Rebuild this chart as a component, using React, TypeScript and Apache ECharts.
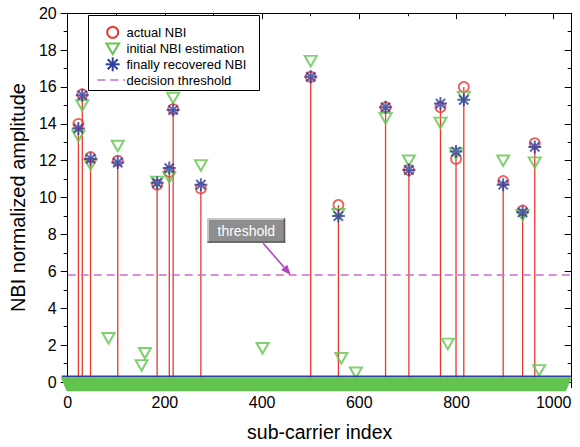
import React, { useEffect, useRef } from 'react';
import * as echarts from 'echarts';

// ---- data ----
const nbiIndex = [22, 30, 47, 103, 184, 209, 217, 274, 500, 557, 654, 702, 767, 799, 815, 896, 936, 961];
const actualNBI = [14.0, 15.6, 12.2, 12.0, 10.7, 11.4, 14.8, 10.5, 16.55, 9.6, 14.9, 11.5, 14.9, 12.1, 16.0, 10.9, 9.3, 12.95];
const recoveredNBI = [13.75, 15.55, 12.1, 11.9, 10.8, 11.6, 14.75, 10.7, 16.55, 9.0, 14.9, 11.5, 15.1, 12.5, 15.3, 10.7, 9.2, 12.75];
const initialAtNBI = [13.35, 15.0, 11.8, 12.8, 10.85, 11.1, 15.4, 11.75, 17.4, 9.1, 14.3, 12.0, 14.05, 12.4, 15.45, 12.0, 9.05, 11.9];
const falseIndex = [84, 152, 159, 401, 563, 593, 782, 970];
const falseInitial = [2.37, 0.9, 1.56, 1.83, 1.29, 0.5, 2.07, 0.63];
const decisionThreshold = 5.8;
const firstSubcarrier = 0;
const lastSubcarrier = 1023;
const zeroLevel = 0;
const annotationAt = [459, 5.8];
const annotationText = 'threshold';

const xMin = 0;
const xMax = 1037;
const xInterval = 200;
const xTickLabels = [0, 200, 400, 600, 800, 1000];
const yMin = 0;
const yMax = 20;
const yInterval = 2;

const legendLabels = ['actual NBI', 'initial NBI estimation', 'finally recovered NBI', 'decision threshold'];
const xTitle = 'sub-carrier index';
const yTitle = 'NBI normalized amplitude';

// ---- styles ----
const RED = '#e8392f';
const GREEN = '#62c44e';
const BLUE = '#2e3f9e';
const PINK = '#cc6ccc';
const ARROW = '#b442c2';
const FONT = "'Liberation Sans', Arial, Helvetica, sans-serif";
const STAR = 'path://M0,-7 L0,7 M-7,0 L7,0 M-5,-5 L5,5 M-5,5 L5,-5';

export default function App() {
  const ref = useRef<HTMLDivElement>(null);

  useEffect(() => {
    if (!ref.current) return;
    const chart = echarts.init(ref.current, undefined, { renderer: 'svg' });

    const axisCommon = {
      type: 'value' as const,
      splitLine: { show: false },
      axisLine: { show: true, onZero: false, lineStyle: { color: '#000', width: 1 } },
    };

    const legendX = 112.7;
    const textX = 126.5;
    const rows = [32.3, 48.3, 64.3, 80];

    const legendElements: any[] = [
      {
        type: 'rect', z: 100,
        shape: { x: 88.5, y: 15.5, width: 171, height: 75 },
        style: { fill: '#fff', stroke: '#000', lineWidth: 1 },
      },
      {
        type: 'circle', z: 101,
        shape: { cx: legendX, cy: rows[0], r: 5.5 },
        style: { fill: 'transparent', stroke: RED, lineWidth: 2 },
      },
      {
        type: 'polygon', z: 101,
        shape: { points: [[legendX - 6.3, rows[1] - 4.8], [legendX + 6.3, rows[1] - 4.8], [legendX, rows[1] + 5.8]] },
        style: { fill: 'transparent', stroke: GREEN, lineWidth: 2 },
      },
      {
        type: 'group', z: 101,
        children: [
          { type: 'line', z: 101, shape: { x1: legendX, y1: rows[2] - 7, x2: legendX, y2: rows[2] + 7 }, style: { stroke: BLUE, lineWidth: 2 } },
          { type: 'line', z: 101, shape: { x1: legendX - 7, y1: rows[2], x2: legendX + 7, y2: rows[2] }, style: { stroke: BLUE, lineWidth: 2 } },
          { type: 'line', z: 101, shape: { x1: legendX - 5, y1: rows[2] - 5, x2: legendX + 5, y2: rows[2] + 5 }, style: { stroke: BLUE, lineWidth: 2 } },
          { type: 'line', z: 101, shape: { x1: legendX - 5, y1: rows[2] + 5, x2: legendX + 5, y2: rows[2] - 5 }, style: { stroke: BLUE, lineWidth: 2 } },
        ],
      },
      {
        type: 'line', z: 101,
        shape: { x1: 97.3, y1: rows[3], x2: 125, y2: rows[3] },
        style: { stroke: PINK, lineWidth: 1.5, lineDash: [8, 5] },
      },
      ...legendLabels.map((t, i) => ({
        type: 'text', z: 101,
        x: textX, y: rows[i],
        style: { text: t, fill: '#000', fontSize: 13, fontFamily: FONT, verticalAlign: 'middle', align: 'left' },
      })),
    ];

    const option: any = {
      animation: false,
      backgroundColor: '#fff',
      grid: { left: 63.3, right: 8.3, top: 13.2, bottom: 60.3, containLabel: false },
      xAxis: [
        {
          ...axisCommon,
          position: 'bottom',
          min: xMin, max: xMax, interval: xInterval,
          axisTick: { show: true, inside: false, length: 6, lineStyle: { color: '#000' } },
          minorTick: { show: true, splitNumber: 2, length: 3, lineStyle: { color: '#000' } },
          axisLabel: { show: false },
          name: xTitle, nameLocation: 'middle', nameGap: 40,
          nameTextStyle: { fontSize: 19.5, color: '#000', fontFamily: FONT },
        },
        {
          ...axisCommon,
          position: 'top',
          min: xMin, max: xMax, interval: xInterval,
          axisTick: { show: true, inside: true, length: 6, lineStyle: { color: '#000' } },
          minorTick: { show: true, splitNumber: 2, length: 3, lineStyle: { color: '#000' } },
          axisLabel: { show: false },
        },
      ],
      yAxis: [
        {
          ...axisCommon,
          position: 'left',
          min: yMin, max: yMax, interval: yInterval,
          axisTick: { show: true, inside: false, length: 7, lineStyle: { color: '#000' } },
          minorTick: { show: true, splitNumber: 2, length: 4, lineStyle: { color: '#000' } },
          axisLabel: { fontSize: 16, color: '#000', fontFamily: FONT, margin: 11 },
          name: yTitle, nameLocation: 'middle', nameGap: 31,
          nameTextStyle: { fontSize: 20, color: '#000', fontFamily: FONT },
        },
        {
          ...axisCommon,
          position: 'right',
          min: yMin, max: yMax, interval: yInterval,
          axisTick: { show: true, inside: true, length: 7, lineStyle: { color: '#000' } },
          minorTick: { show: true, splitNumber: 2, length: 4, lineStyle: { color: '#000' } },
          axisLabel: { show: false },
        },
      ],
      series: [
        {
          name: 'stems',
          type: 'custom',
          z: 2,
          silent: true,
          encode: { x: 0, y: 1 },
          data: nbiIndex.map((x, i) => [x, actualNBI[i]]),
          renderItem: (_p: any, api: any) => {
            const x = api.value(0);
            const p0 = api.coord([x, zeroLevel]);
            const p1 = api.coord([x, api.value(1)]);
            return {
              type: 'line',
              shape: { x1: p0[0], y1: p0[1], x2: p1[0], y2: p1[1] },
              style: { stroke: RED, lineWidth: 1.3 },
            };
          },
        },
        {
          name: legendLabels[3],
          type: 'line',
          z: 3,
          symbol: 'none',
          silent: true,
          data: [[xMin, decisionThreshold], [xMax, decisionThreshold]],
          lineStyle: { color: PINK, width: 1.5, type: [8, 5] },
        },
        {
          name: legendLabels[0],
          type: 'scatter',
          z: 4,
          symbol: 'circle',
          symbolSize: 10,
          data: nbiIndex.map((x, i) => [x, actualNBI[i]]),
          itemStyle: { color: 'transparent', borderColor: RED, borderWidth: 1.8 },
        },
        {
          name: legendLabels[1],
          type: 'scatter',
          z: 5,
          symbol: 'triangle',
          symbolRotate: 180,
          symbolSize: [12, 10.5],
          data: [
            ...nbiIndex.map((x, i) => [x, initialAtNBI[i]]),
            ...falseIndex.map((x, i) => [x, falseInitial[i]]),
          ],
          itemStyle: { color: 'transparent', borderColor: GREEN, borderWidth: 2 },
        },
        {
          name: 'zero bins',
          type: 'custom',
          z: 6,
          silent: true,
          clip: false,
          encode: { x: [0, 1], y: 2 },
          data: [[firstSubcarrier, lastSubcarrier, zeroLevel]],
          renderItem: (_p: any, api: any) => {
            const a = api.coord([api.value(0), api.value(2)]);
            const b = api.coord([api.value(1), api.value(2)]);
            const y = a[1];
            return {
              type: 'group',
              children: [
                {
                  type: 'line',
                  shape: { x1: a[0] - 6, y1: y - 5.6, x2: b[0] + 6, y2: y - 5.6 },
                  style: { stroke: BLUE, lineWidth: 1.6 },
                },
                {
                  type: 'polygon',
                  shape: { points: [[a[0] - 7, y - 4.7], [b[0] + 7, y - 4.7], [b[0] + 1, y + 9.3], [a[0] - 1, y + 9.3]] },
                  style: { fill: GREEN },
                },
              ],
            };
          },
        },
        {
          name: legendLabels[2],
          type: 'scatter',
          z: 7,
          symbol: STAR,
          symbolSize: 13,
          data: nbiIndex.map((x, i) => [x, recoveredNBI[i]]),
          itemStyle: { color: 'transparent', borderColor: BLUE, borderWidth: 2 },
        },
        {
          name: 'annotation',
          type: 'custom',
          z: 10,
          silent: true,
          clip: false,
          encode: { x: 0, y: 1 },
          data: [annotationAt],
          renderItem: (_p: any, api: any) => {
            const tip = api.coord([api.value(0), api.value(1)]);
            const sx = tip[0] - 27.6;
            const sy = tip[1] - 31.8;
            const dx = tip[0] - sx;
            const dy = tip[1] - sy;
            const len = Math.sqrt(dx * dx + dy * dy);
            const ux = dx / len;
            const uy = dy / len;
            const headLen = 10;
            const halfW = 4;
            const bx = tip[0] - ux * headLen;
            const by = tip[1] - uy * headLen;
            const nx = -uy;
            const ny = ux;
            const boxL = tip[0] - 83.3;
            const boxT = tip[1] - 56.6;
            const boxW = 77.7;
            const boxH = 24.3;
            return {
              type: 'group',
              children: [
                { type: 'line', shape: { x1: sx, y1: sy, x2: bx, y2: by }, style: { stroke: ARROW, lineWidth: 1.6 } },
                {
                  type: 'polygon',
                  shape: { points: [[tip[0], tip[1]], [bx + nx * halfW, by + ny * halfW], [bx - nx * halfW, by - ny * halfW]] },
                  style: { fill: ARROW },
                },
                { type: 'rect', shape: { x: boxL, y: boxT, width: boxW, height: boxH }, style: { fill: '#8e8e8e' } },
                { type: 'line', shape: { x1: boxL, y1: boxT + 0.75, x2: boxL + boxW, y2: boxT + 0.75 }, style: { stroke: '#c9c9c9', lineWidth: 1.5 } },
                { type: 'line', shape: { x1: boxL + 0.75, y1: boxT, x2: boxL + 0.75, y2: boxT + boxH }, style: { stroke: '#c9c9c9', lineWidth: 1.5 } },
                { type: 'line', shape: { x1: boxL, y1: boxT + boxH - 0.75, x2: boxL + boxW, y2: boxT + boxH - 0.75 }, style: { stroke: '#5a5a5a', lineWidth: 1.5 } },
                { type: 'line', shape: { x1: boxL + boxW - 0.75, y1: boxT, x2: boxL + boxW - 0.75, y2: boxT + boxH }, style: { stroke: '#5a5a5a', lineWidth: 1.5 } },
                {
                  type: 'text',
                  x: boxL + boxW / 2,
                  y: boxT + boxH / 2,
                  style: { text: annotationText, fill: '#fff', fontSize: 14, fontFamily: FONT, align: 'center', verticalAlign: 'middle' },
                },
              ],
            };
          },
        },
      ],
      graphic: { elements: legendElements },
    };

    chart.setOption(option);

    // x tick labels placed through the axis scale
    const tickTexts = xTickLabels.map((v) => {
      const p = chart.convertToPixel({ xAxisIndex: 0, yAxisIndex: 0 } as any, [v, yMin]) as number[];
      return {
        type: 'text',
        z: 50,
        x: p[0],
        y: p[1] + 12,
        style: { text: String(v), fill: '#000', fontSize: 16, fontFamily: FONT, align: 'center', verticalAlign: 'top' },
      };
    });
    chart.setOption({ graphic: { elements: [...legendElements, ...tickTexts] } });

    return () => chart.dispose();
  }, []);

  return <div ref={ref} style={{ position: 'absolute', left: 0, top: 0, width: 580, height: 447 }} />;
}
